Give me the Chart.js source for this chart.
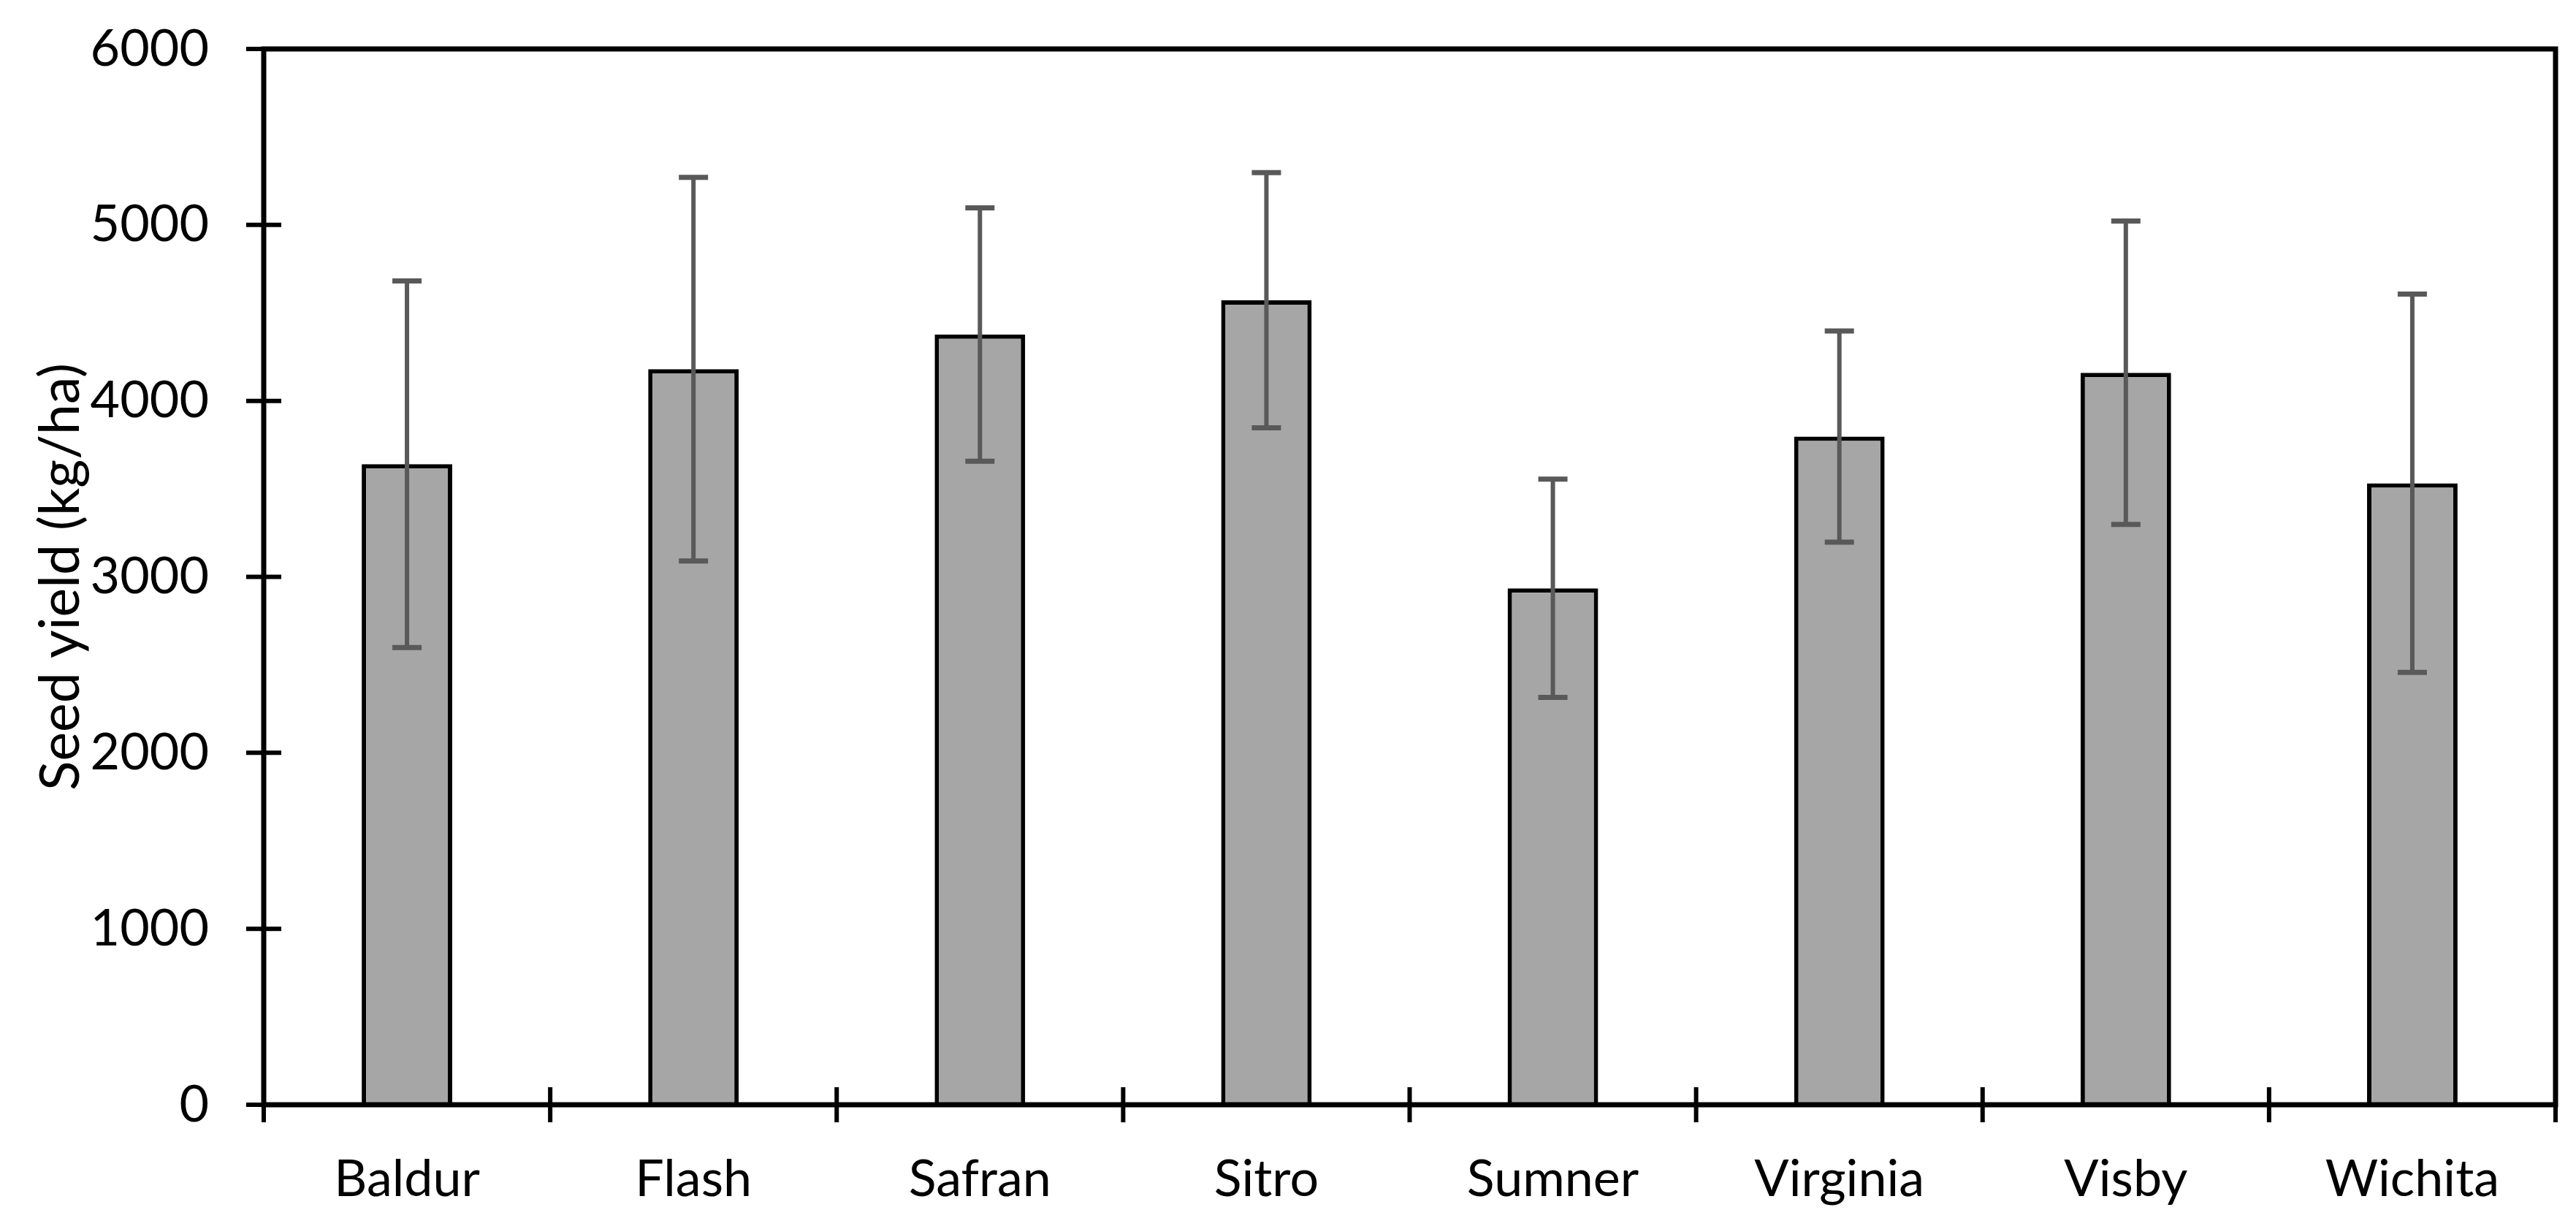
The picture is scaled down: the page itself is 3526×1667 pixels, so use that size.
<!DOCTYPE html>
<html><head><meta charset="utf-8">
<script src="https://cdn.jsdelivr.net/npm/chart.js@4"></script>
<style>html,body{margin:0;padding:0;background:#fff;overflow:hidden}#wrap{width:3526px;height:1667px;position:relative}</style>
</head><body><div id="wrap"><canvas id="c" width="3526" height="1667"></canvas></div>
<script>
const categories = ['Baldur','Flash','Safran','Sitro','Sumner','Virginia','Visby','Wichita'];
const yieldMeans = [3640, 4180, 4377, 4572, 2935, 3797, 4160, 3532];
const yieldErrors = [1042, 1090, 720, 725, 620, 600, 862, 1075];
const yTickValues = [0, 1000, 2000, 3000, 4000, 5000, 6000];
const yTitle = 'Seed yield (kg/ha)';

const FONT = 'Lato';
const FS = 70;
const TITLE_FS = 75;

const framePlugin = {
  id: 'frame',
  afterDatasetsDraw(chart) {
    const {ctx, chartArea: a, scales: {x, y}} = chart;
    ctx.save();
    // error bars
    ctx.strokeStyle = '#595959';
    ctx.lineCap = 'butt';
    yieldMeans.forEach((v, i) => {
      const cx = x.getPixelForValue(i);
      const top = y.getPixelForValue(v + yieldErrors[i]);
      const bot = y.getPixelForValue(v - yieldErrors[i]);
      ctx.lineWidth = 6;
      ctx.beginPath(); ctx.moveTo(cx, top); ctx.lineTo(cx, bot); ctx.stroke();
      ctx.lineWidth = 7;
      ctx.beginPath();
      ctx.moveTo(cx - 20, top); ctx.lineTo(cx + 20, top);
      ctx.moveTo(cx - 20, bot); ctx.lineTo(cx + 20, bot);
      ctx.stroke();
    });
    // frame
    ctx.strokeStyle = '#000';
    ctx.lineWidth = 7;
    ctx.strokeRect(a.left, a.top, a.right - a.left, a.bottom - a.top);
    // y ticks (crossing)
    ctx.lineWidth = 6;
    ctx.beginPath();
    yTickValues.forEach(t => {
      const py = y.getPixelForValue(t);
      ctx.moveTo(a.left - 24, py); ctx.lineTo(a.left + (t === 6000 ? 0 : 24), py);
    });
    // x ticks at category boundaries
    const n = categories.length;
    for (let i = 0; i <= n; i++) {
      const px = a.left + i * (a.right - a.left) / n;
      const up = (i === 0 || i === n) ? 0 : 24;
      ctx.moveTo(px, a.bottom - up); ctx.lineTo(px, a.bottom + 24);
    }
    ctx.stroke();
    // y axis title
    ctx.fillStyle = '#000';
    ctx.font = TITLE_FS + 'px ' + FONT;
    ctx.textAlign = 'center';
    ctx.textBaseline = 'middle';
    ctx.translate(84, (a.top + a.bottom) / 2);
    ctx.rotate(-Math.PI / 2);
    ctx.fillText(yTitle, 0, 0);
    ctx.restore();
  }
};

new Chart(document.getElementById('c'), {
  type: 'bar',
  data: {
    labels: categories,
    datasets: [{
      data: yieldMeans,
      backgroundColor: '#a6a6a6',
      borderColor: '#000',
      borderWidth: 6,
      borderSkipped: 'bottom',
      barPercentage: 0.316,
      categoryPercentage: 1
    }]
  },
  options: {
    responsive: false,
    devicePixelRatio: 1,
    animation: false,
    layout: {padding: {left: 0, right: 28, top: 67, bottom: 0}},
    plugins: {legend: {display: false}, tooltip: {enabled: false}},
    scales: {
      x: {
        grid: {display: false, drawTicks: false},
        border: {display: false},
        ticks: {color: '#000', font: {family: FONT, size: FS}, padding: 60, maxRotation: 0},
        afterFit: s => { s.height = 155; s.paddingLeft = 0; s.paddingRight = 0; }
      },
      y: {
        min: 0, max: 6000,
        afterBuildTicks: s => { s.ticks = yTickValues.map(v => ({value: v})); },
        grid: {display: false, drawTicks: false},
        border: {display: false},
        ticks: {color: '#000', font: {family: FONT, size: FS}, padding: 75,
                callback: v => String(v)},
        afterFit: s => { s.width = 361; s.paddingTop = 0; s.paddingBottom = 0; }
      }
    }
  },
  plugins: [framePlugin]
});
</script>
</body></html>
